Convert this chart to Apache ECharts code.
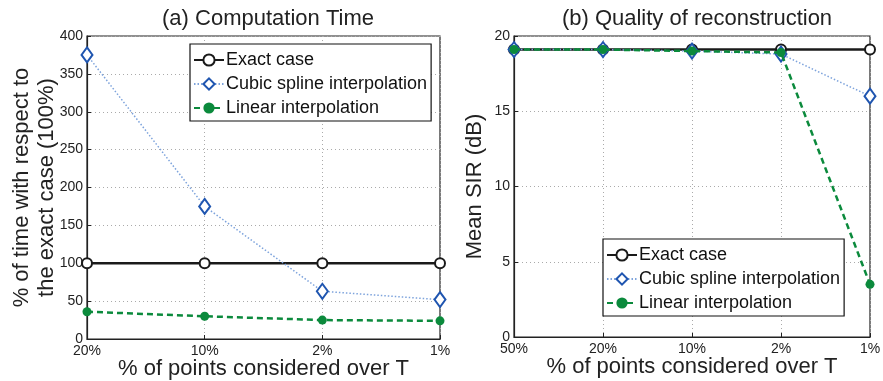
<!DOCTYPE html>
<html>
<head>
<meta charset="utf-8">
<script src="https://cdn.jsdelivr.net/npm/echarts@6/dist/echarts.min.js"></script>
<style>
html,body{margin:0;padding:0;background:#fff;}
#main{width:883px;height:381px;}
</style>
</head>
<body>
<div id="main"></div>
<script>
// data
var catsA = ['20%', '10%', '2%', '1%'];
var exactA = [100, 100, 100, 100];
var cubicA = [375, 175, 63, 52];
var linearA = [36, 30, 25, 24];

var catsB = ['50%', '20%', '10%', '2%', '1%'];
var exactB = [19.1, 19.1, 19.1, 19.1, 19.1];
var cubicB = [19.1, 19.1, 19.0, 18.8, 16.0];
var linearB = [19.1, 19.1, 19.0, 18.9, 3.5];

var FONT = 'Liberation Sans';
var cBlack = '#1a1a1a', cBlue = '#1f55b0', cBlueLine = '#7da3dc', cGreen = '#0b8a3c';

function xAxisOf(idx, cats){
    return {
        type: 'category', gridIndex: idx, data: cats, boundaryGap: false,
        name: '% of points considered over T', nameLocation: 'middle', nameGap: 19,
        nameMoveOverlap: false,
        nameTextStyle: {fontFamily: FONT, fontSize: 22, color: '#222'},
        axisLine: {lineStyle: {color: '#222', width: 1.2}},
        axisTick: {inside: true, length: 4, lineStyle: {color: '#222'}},
        axisLabel: {fontFamily: FONT, fontSize: 14, color: '#222', margin: 5},
        splitLine: {show: true, lineStyle: {color: '#aaa', type: [1, 3]}}
    };
}
function yAxisOf(idx, max, step, name, gap){
    return {
        type: 'value', gridIndex: idx, min: 0, max: max, interval: step,
        name: name, nameLocation: 'middle', nameGap: gap, nameRotate: 90,
        nameMoveOverlap: false,
        nameTextStyle: {fontFamily: FONT, fontSize: 22, color: '#222', lineHeight: 25},
        axisLine: {show: true, lineStyle: {color: '#222', width: 1.2}},
        axisTick: {show: true, inside: true, length: 4, lineStyle: {color: '#222'}},
        axisLabel: {fontFamily: FONT, fontSize: 14, color: '#222', margin: 4},
        splitLine: {show: true, lineStyle: {color: '#aaa', type: [1, 3]}}
    };
}
function seriesOf(idx, exact, cubic, linear){
    return [
        {name: 'Exact case', type: 'line', xAxisIndex: idx, yAxisIndex: idx, data: exact,
         symbol: 'emptyCircle', symbolSize: 10,
         itemStyle: {color: cBlack, borderWidth: 2.5},
         lineStyle: {color: cBlack, width: 2.5}, z: 3},
        {name: 'Cubic spline interpolation', type: 'line', xAxisIndex: idx, yAxisIndex: idx, data: cubic,
         symbol: 'emptyDiamond', symbolSize: [11, 15],
         itemStyle: {color: cBlue, borderWidth: 2.2},
         lineStyle: {color: cBlueLine, width: 1.5, type: [1.5, 2]}, z: 4},
        {name: 'Linear interpolation', type: 'line', xAxisIndex: idx, yAxisIndex: idx, data: linear,
         symbol: 'circle', symbolSize: 9,
         itemStyle: {color: cGreen},
         lineStyle: {color: cGreen, width: 2.5, type: [6, 4]}, z: 5}
    ];
}
function legendOf(left, top){
    return {
        orient: 'vertical', left: left, top: top,
        backgroundColor: '#fff', borderColor: '#111', borderWidth: 1.2,
        padding: [7, 4, 4, 3], itemGap: 6, itemWidth: 30, itemHeight: 14,
        textStyle: {fontFamily: FONT, fontSize: 18, color: '#111', padding: [0, 0, 0, -3]},
        data: ['Exact case', 'Cubic spline interpolation', 'Linear interpolation']
    };
}

var myChart = echarts.init(document.getElementById('main'));
var option = {
    animation: false,
    backgroundColor: '#fff',
    title: [
        {text: '(a) Computation Time', left: 263, top: 3, textAlign: 'center',
         textStyle: {fontFamily: FONT, fontSize: 22, fontWeight: 'normal', color: '#222'}},
        {text: '(b) Quality of reconstruction', left: 692, top: 3, textAlign: 'center',
         textStyle: {fontFamily: FONT, fontSize: 22, fontWeight: 'normal', color: '#222'}}
    ],
    grid: [
        {left: 87, right: 443, top: 36, bottom: 42, outerBoundsMode: 'none',
         show: true, borderColor: '#222', borderWidth: 1.2},
        {left: 514, right: 13, top: 36, bottom: 44, outerBoundsMode: 'none',
         show: true, borderColor: '#222', borderWidth: 1.2}
    ],
    legend: [legendOf(190, 44), legendOf(603, 239)],
    xAxis: [xAxisOf(0, catsA), xAxisOf(1, catsB)],
    yAxis: [
        yAxisOf(0, 400, 50, '% of time with respect to\nthe exact case (100%)', 28),
        yAxisOf(1, 20, 5, 'Mean SIR (dB)', 27)
    ],
    series: seriesOf(0, exactA, cubicA, linearA).concat(seriesOf(1, exactB, cubicB, linearB))
};
myChart.setOption(option);
</script>
</body>
</html>
